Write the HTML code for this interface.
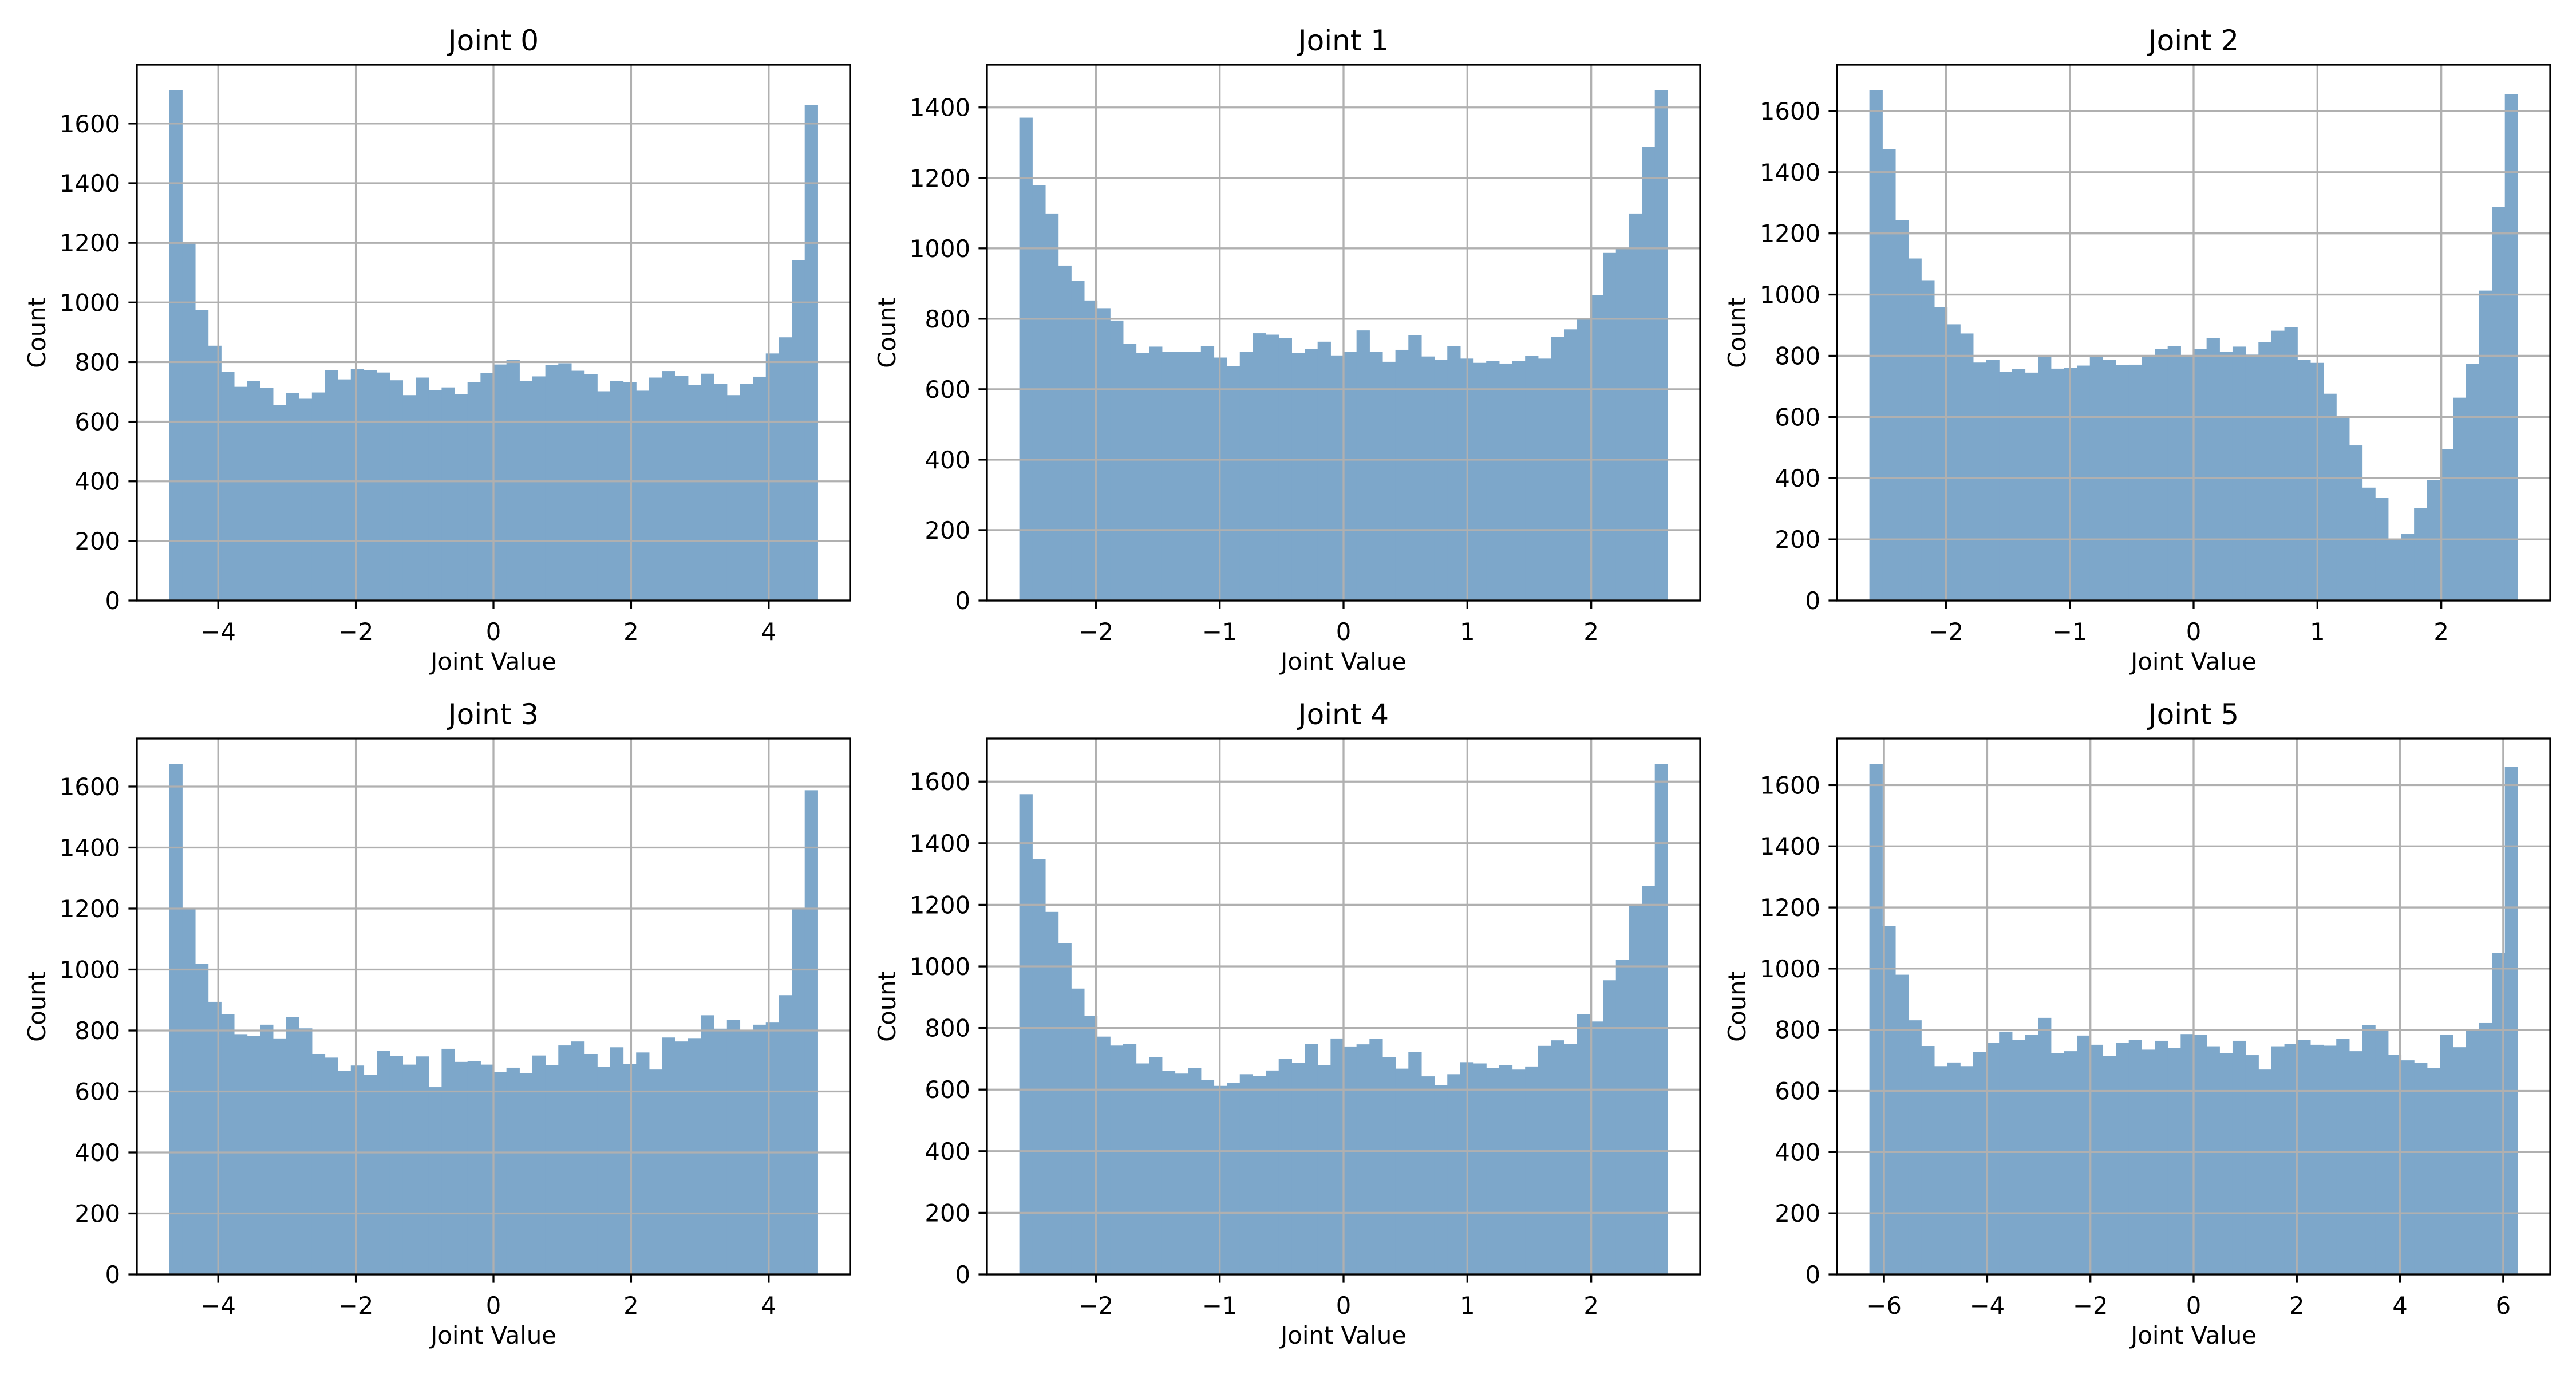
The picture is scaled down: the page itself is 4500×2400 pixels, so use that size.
<!DOCTYPE html>
<html><head><meta charset="utf-8">
<style>
html,body{margin:0;padding:0;background:#fff;}
svg{display:block;font-family:"DejaVu Sans","Liberation Sans",sans-serif;}
</style></head>
<body>
<svg id="fig" width="4500" height="2400" viewBox="0 0 4500 2400" xmlns="http://www.w3.org/2000/svg">
<rect width="4500" height="2400" fill="#fff"/>
</svg>
<script>
const joint0 = [1712,1200,975,855,767,717,736,714,655,696,677,698,773,742,777,773,765,739,689,748,705,715,692,733,764,792,808,736,752,790,796,771,760,702,736,733,704,748,770,754,724,761,727,689,727,751,829,883,1141,1662];
const joint1 = [1371,1179,1099,951,907,852,830,795,729,703,721,706,707,706,722,690,665,707,759,755,745,703,715,735,696,707,767,706,678,712,753,693,683,722,687,675,681,673,681,695,687,748,770,801,868,987,1001,1099,1288,1449];
const joint2 = [1668,1476,1243,1118,1047,959,903,873,778,787,747,757,745,799,758,761,768,799,787,770,771,801,823,831,802,823,857,813,830,804,844,882,893,787,777,676,596,507,369,335,203,217,303,393,494,663,774,1013,1286,1655];
const joint3 = [1674,1199,1018,894,854,788,783,819,774,844,807,723,711,668,685,654,734,717,688,715,614,740,697,700,688,664,678,661,718,687,751,764,723,681,745,691,728,672,777,764,775,850,806,834,802,819,826,916,1199,1588];
const joint4 = [1559,1348,1177,1075,928,840,772,743,749,685,706,660,652,670,632,612,622,650,645,662,699,686,749,680,766,740,747,764,705,668,722,643,614,650,689,685,670,679,665,675,742,760,749,844,821,955,1022,1199,1261,1657];
const joint5 = [1669,1140,980,831,747,681,693,681,728,757,794,766,784,839,724,730,781,751,714,758,766,735,764,740,786,783,746,724,764,717,670,746,753,767,751,748,771,730,816,796,718,700,691,674,784,743,796,822,1052,1659];
const ranges = [4.712,2.618,2.618,4.712,2.618,6.283];
const xticks0 = [-4,-2,0,2,4];
const xticks1 = [-2,-1,0,1,2];
const xticks5 = [-6,-4,-2,0,2,4,6];
const titles = ["Joint 0","Joint 1","Joint 2","Joint 3","Joint 4","Joint 5"];

const series = [joint0,joint1,joint2,joint3,joint4,joint5];
const xtickSets = [xticks0,xticks1,xticks1,xticks0,xticks1,xticks5];
const NS = "http://www.w3.org/2000/svg";
const fig = document.getElementById('fig');
const lefts=[239,1724,3209], tops=[113,1290], W=1246, H=936;
function mk(tag, attrs, parent){const e=document.createElementNS(NS,tag);for(const k in attrs)e.setAttribute(k,attrs[k]);parent.appendChild(e);return e;}

series.forEach((vals,i)=>{
  const L=lefts[i%3], T=tops[Math.floor(i/3)];
  const g=mk('g',{},fig);
  
  
  const r=ranges[i], n=vals.length;
  const span=2*r*1.1, x0=-r*1.1;
  const xs=v=>L+(v-x0)/span*W;
  const ymax=Math.max(...vals)*1.05;
  const ys=v=>T+H-v/ymax*H;
  const bw=2*r/n;
  vals.forEach((v,k)=>{
    const a=xs(-r+k*bw), b=xs(-r+(k+1)*bw);
    const bar=mk('rect',{x:a,y:ys(v),width:b-a+0.6,height:ys(0)-ys(v),fill:'#7da7ca'},g);
    
    
  });
  const step=200;
  for(let t=0;t<=ymax;t+=step){
    const y=ys(t);
    const gl=mk('line',{x1:L,x2:L+W,y1:y,y2:y,stroke:'#b0b0b0','stroke-width':3.3},g);
    
    
    mk('line',{x1:L-14.6,x2:L,y1:y,y2:y,stroke:'#000','stroke-width':3.3},g);
    const tx=mk('text',{x:L-29,y:y+15,'text-anchor':'end','font-size':41.7,fill:'#000'},g);
    tx.textContent=String(t);
    
    
  }
  xtickSets[i].forEach(t=>{
    const x=xs(t);
    const gl=mk('line',{x1:x,x2:x,y1:T,y2:T+H,stroke:'#b0b0b0','stroke-width':3.3},g);
    
    
    mk('line',{x1:x,x2:x,y1:T+H,y2:T+H+14.6,stroke:'#000','stroke-width':3.3},g);
    const tx=mk('text',{x:x,y:T+H+29+40,'text-anchor':'middle','font-size':41.7,fill:'#000'},g);
    tx.textContent=(t<0?'\u2212'+(-t):String(t));
    
    
  });
  const fr=mk('rect',{x:L,y:T,width:W,height:H,fill:'none',stroke:'#000','stroke-width':3.3},g);
  
  
  const ti=mk('text',{x:L+W/2,y:T-25,'text-anchor':'middle','font-size':50,fill:'#000'},g);
  ti.textContent=titles[i];
  
  
  const xl=mk('text',{x:L+W/2,y:T+H+121,'text-anchor':'middle','font-size':41.7,fill:'#000'},g);
  xl.textContent='Joint Value';
  
  
  const cx=L-175+15, cy=T+H/2;
  const yl=mk('text',{x:cx,y:cy,'text-anchor':'middle','font-size':41.7,fill:'#000',transform:'rotate(-90 '+cx+' '+cy+')'},g);
  yl.textContent='Count';
  
  
});
</script>
</body></html>
